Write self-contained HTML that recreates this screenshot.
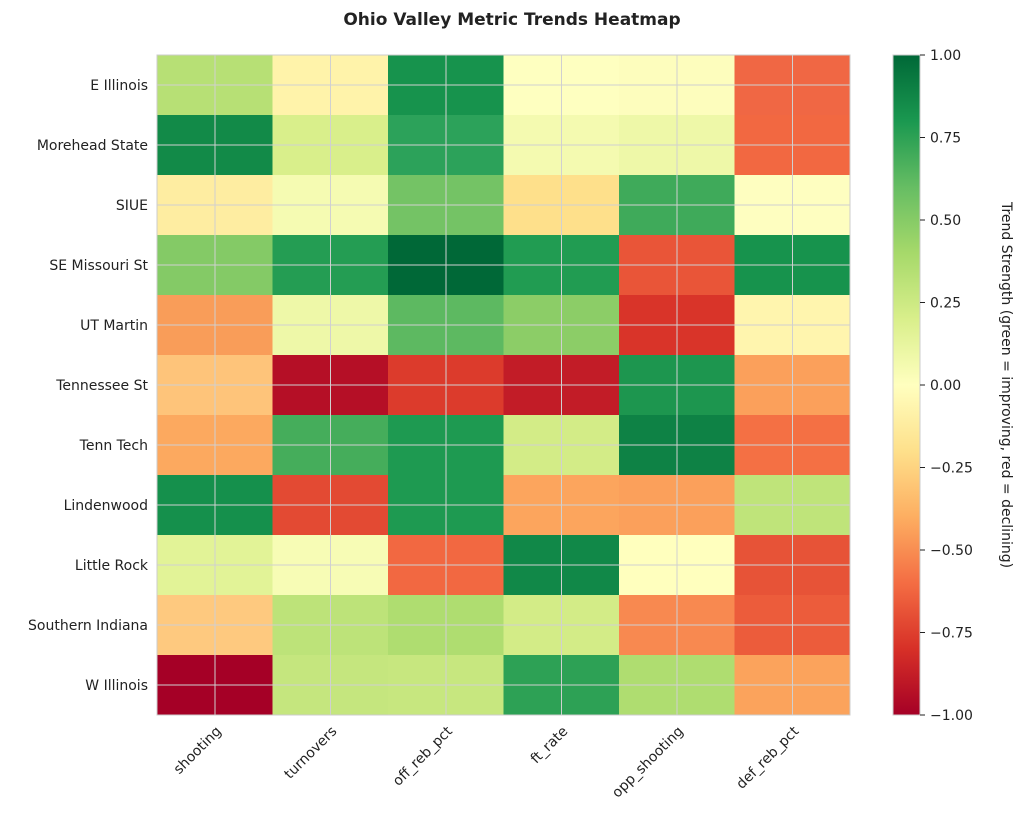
<!DOCTYPE html>
<html><head><meta charset="utf-8"><style>body{margin:0;background:#fff}</style></head><body>
<svg width="1024" height="822" xmlns="http://www.w3.org/2000/svg" font-family="DejaVu Sans, Liberation Sans, sans-serif">
<defs><linearGradient id="g" x1="0" y1="1" x2="0" y2="0">
<stop offset="0" stop-color="#a50026"/><stop offset="0.1" stop-color="#d73027"/><stop offset="0.2" stop-color="#f46d43"/><stop offset="0.3" stop-color="#fdae61"/><stop offset="0.4" stop-color="#fee08b"/><stop offset="0.5" stop-color="#ffffbf"/><stop offset="0.6" stop-color="#d9ef8b"/><stop offset="0.7" stop-color="#a6d96a"/><stop offset="0.8" stop-color="#66bd63"/><stop offset="0.9" stop-color="#1a9850"/><stop offset="1" stop-color="#006837"/></linearGradient></defs>
<text x="512" y="25" text-anchor="middle" font-size="17" font-weight="bold" fill="#222">Ohio Valley Metric Trends Heatmap</text>
<g>
<rect x="157" y="55" width="116" height="61" fill="#b7e075"/><rect x="272.5" y="55" width="116" height="61" fill="#fff3aa"/><rect x="388" y="55" width="116" height="61" fill="#17934d"/><rect x="503.5" y="55" width="116" height="61" fill="#feffc0"/><rect x="619" y="55" width="116" height="61" fill="#fdfdbd"/><rect x="734.5" y="55" width="115.5" height="61" fill="#f06744"/>
<rect x="157" y="115" width="116" height="61" fill="#128a48"/><rect x="272.5" y="115" width="116" height="61" fill="#d9ef8b"/><rect x="388" y="115" width="116" height="61" fill="#2ca25a"/><rect x="503.5" y="115" width="116" height="61" fill="#f4fab0"/><rect x="619" y="115" width="116" height="61" fill="#eef8a8"/><rect x="734.5" y="115" width="115.5" height="61" fill="#f26841"/>
<rect x="157" y="175" width="116" height="61" fill="#feeda1"/><rect x="272.5" y="175" width="116" height="61" fill="#f5fbb2"/><rect x="388" y="175" width="116" height="61" fill="#74c365"/><rect x="503.5" y="175" width="116" height="61" fill="#fee08b"/><rect x="619" y="175" width="116" height="61" fill="#3faa5a"/><rect x="734.5" y="175" width="115.5" height="61" fill="#fefec0"/>
<rect x="157" y="235" width="116" height="61" fill="#84ca66"/><rect x="272.5" y="235" width="116" height="61" fill="#249d53"/><rect x="388" y="235" width="116" height="61" fill="#006837"/><rect x="503.5" y="235" width="116" height="61" fill="#219c52"/><rect x="619" y="235" width="116" height="61" fill="#e95538"/><rect x="734.5" y="235" width="115.5" height="61" fill="#17934d"/>
<rect x="157" y="295" width="116" height="61" fill="#f99d59"/><rect x="272.5" y="295" width="116" height="61" fill="#eef8a8"/><rect x="388" y="295" width="116" height="61" fill="#5db961"/><rect x="503.5" y="295" width="116" height="61" fill="#8ccd67"/><rect x="619" y="295" width="116" height="61" fill="#d93429"/><rect x="734.5" y="295" width="115.5" height="61" fill="#fff5ae"/>
<rect x="157" y="355" width="116" height="61" fill="#fec47a"/><rect x="272.5" y="355" width="116" height="61" fill="#b50f26"/><rect x="388" y="355" width="116" height="61" fill="#dc3b2c"/><rect x="503.5" y="355" width="116" height="61" fill="#c21c27"/><rect x="619" y="355" width="116" height="61" fill="#1d964f"/><rect x="734.5" y="355" width="115.5" height="61" fill="#fba05b"/>
<rect x="157" y="415" width="116" height="61" fill="#fca95f"/><rect x="272.5" y="415" width="116" height="61" fill="#45ad5b"/><rect x="388" y="415" width="116" height="61" fill="#1e9a51"/><rect x="503.5" y="415" width="116" height="61" fill="#d3ec87"/><rect x="619" y="415" width="116" height="61" fill="#0e8245"/><rect x="734.5" y="415" width="115.5" height="61" fill="#f47044"/>
<rect x="157" y="475" width="116" height="61" fill="#15904c"/><rect x="272.5" y="475" width="116" height="61" fill="#e34a33"/><rect x="388" y="475" width="116" height="61" fill="#1e9a51"/><rect x="503.5" y="475" width="116" height="61" fill="#fca55d"/><rect x="619" y="475" width="116" height="61" fill="#fba05b"/><rect x="734.5" y="475" width="115.5" height="61" fill="#bfe47a"/>
<rect x="157" y="535" width="116" height="61" fill="#e2f397"/><rect x="272.5" y="535" width="116" height="61" fill="#f7fcb5"/><rect x="388" y="535" width="116" height="61" fill="#f26841"/><rect x="503.5" y="535" width="116" height="61" fill="#118848"/><rect x="619" y="535" width="116" height="61" fill="#ffffbe"/><rect x="734.5" y="535" width="115.5" height="61" fill="#e75337"/>
<rect x="157" y="595" width="116" height="61" fill="#fec97f"/><rect x="272.5" y="595" width="116" height="61" fill="#bde379"/><rect x="388" y="595" width="116" height="61" fill="#afdd70"/><rect x="503.5" y="595" width="116" height="61" fill="#d3ec87"/><rect x="619" y="595" width="116" height="61" fill="#f88950"/><rect x="734.5" y="595" width="115.5" height="61" fill="#ec5c3b"/>
<rect x="157" y="655" width="116" height="60" fill="#a50026"/><rect x="272.5" y="655" width="116" height="60" fill="#c5e67e"/><rect x="388" y="655" width="116" height="60" fill="#c7e77f"/><rect x="503.5" y="655" width="116" height="60" fill="#2da155"/><rect x="619" y="655" width="116" height="60" fill="#afdd70"/><rect x="734.5" y="655" width="115.5" height="60" fill="#fba35c"/>
</g>
<g stroke="#d0d0d0" stroke-width="1">
<line x1="215" y1="55" x2="215" y2="715"/><line x1="330.5" y1="55" x2="330.5" y2="715"/><line x1="446" y1="55" x2="446" y2="715"/><line x1="561.5" y1="55" x2="561.5" y2="715"/><line x1="677" y1="55" x2="677" y2="715"/><line x1="792.5" y1="55" x2="792.5" y2="715"/>
<line x1="157" y1="85" x2="850" y2="85"/><line x1="157" y1="145" x2="850" y2="145"/><line x1="157" y1="205" x2="850" y2="205"/><line x1="157" y1="265" x2="850" y2="265"/><line x1="157" y1="325" x2="850" y2="325"/><line x1="157" y1="385" x2="850" y2="385"/><line x1="157" y1="445" x2="850" y2="445"/><line x1="157" y1="505" x2="850" y2="505"/><line x1="157" y1="565" x2="850" y2="565"/><line x1="157" y1="625" x2="850" y2="625"/><line x1="157" y1="685" x2="850" y2="685"/>
</g>
<rect x="157" y="55" width="693" height="660" fill="none" stroke="#ccc"/>
<g font-size="14" fill="#222" text-anchor="end">
<text x="148" y="90">E Illinois</text><text x="148" y="150">Morehead State</text><text x="148" y="210">SIUE</text><text x="148" y="270">SE Missouri St</text><text x="148" y="330">UT Martin</text><text x="148" y="390">Tennessee St</text><text x="148" y="450">Tenn Tech</text><text x="148" y="510">Lindenwood</text><text x="148" y="570">Little Rock</text><text x="148" y="630">Southern Indiana</text><text x="148" y="690">W Illinois</text>
<text transform="translate(222,732) rotate(-45)">shooting</text>
<text transform="translate(337.5,732) rotate(-45)">turnovers</text>
<text transform="translate(453,732) rotate(-45)">off_reb_pct</text>
<text transform="translate(568.5,732) rotate(-45)">ft_rate</text>
<text transform="translate(684,732) rotate(-45)">opp_shooting</text>
<text transform="translate(799.5,732) rotate(-45)">def_reb_pct</text>
</g>
<rect x="893" y="55" width="27" height="660" fill="url(#g)" stroke="#ccc"/>
<g stroke="#222">
<line x1="920" x2="925" y1="55" y2="55"/><line x1="920" x2="925" y1="137.5" y2="137.5"/><line x1="920" x2="925" y1="220" y2="220"/><line x1="920" x2="925" y1="302.5" y2="302.5"/><line x1="920" x2="925" y1="385" y2="385"/><line x1="920" x2="925" y1="467.5" y2="467.5"/><line x1="920" x2="925" y1="550" y2="550"/><line x1="920" x2="925" y1="632.5" y2="632.5"/><line x1="920" x2="925" y1="715" y2="715"/>
</g>
<g font-size="14" fill="#222">
<text x="930" y="60">1.00</text><text x="930" y="142.5">0.75</text><text x="930" y="225">0.50</text><text x="930" y="307.5">0.25</text><text x="930" y="390">0.00</text><text x="930" y="472.5">−0.25</text><text x="930" y="555">−0.50</text><text x="930" y="637.5">−0.75</text><text x="930" y="720">−1.00</text>
</g>
<text transform="translate(1002,385) rotate(90)" text-anchor="middle" font-size="14" fill="#222">Trend Strength (green = improving, red = declining)</text>
</svg>
</body></html>
